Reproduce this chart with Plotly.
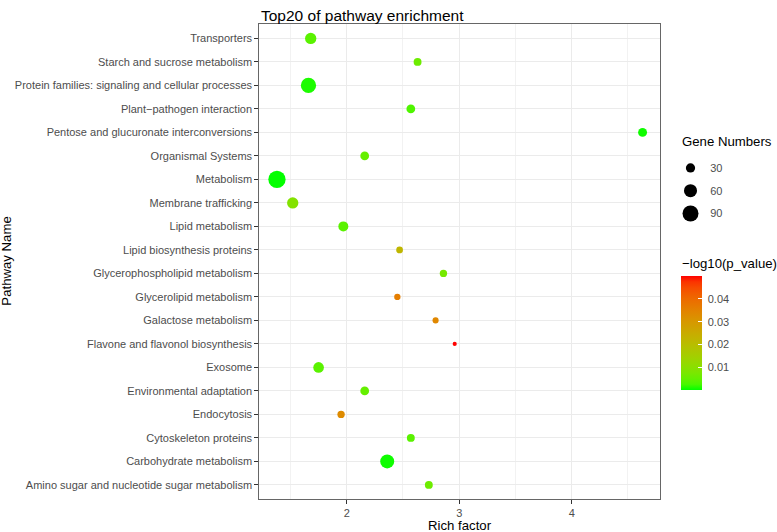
import plotly.graph_objects as go

# ---------------- data ----------------
pathways = [
    "Transporters",
    "Starch and sucrose metabolism",
    "Protein families: signaling and cellular processes",
    "Plant\u2212pathogen interaction",
    "Pentose and glucuronate interconversions",
    "Organismal Systems",
    "Metabolism",
    "Membrane trafficking",
    "Lipid metabolism",
    "Lipid biosynthesis proteins",
    "Glycerophospholipid metabolism",
    "Glycerolipid metabolism",
    "Galactose metabolism",
    "Flavone and flavonol biosynthesis",
    "Exosome",
    "Environmental adaptation",
    "Endocytosis",
    "Cytoskeleton proteins",
    "Carbohydrate metabolism",
    "Amino sugar and nucleotide sugar metabolism",
]
rich_factor = [1.68, 2.63, 1.66, 2.57, 4.63, 2.16, 1.38, 1.52, 1.97, 2.47,
               2.86, 2.45, 2.79, 2.96, 1.75, 2.16, 1.95, 2.57, 2.36, 2.73]
gene_numbers = [45, 22, 82, 27, 28, 27, 105, 45, 35, 16,
                19, 14, 13, 6, 40, 27, 19, 22, 69, 22]
neg_log10_p = [0.004, 0.006, 0.001, 0.003, 0.0005, 0.005, 0.0001, 0.009, 0.004, 0.022,
               0.007, 0.036, 0.034, 0.050, 0.004, 0.005, 0.033, 0.004, 0.0005, 0.006]

size_legend_values = [30, 60, 90]
x_ticks = [2, 3, 4]
color_ticks = [0.01, 0.02, 0.03, 0.04]

# ---------------- colour scale (Lab interpolation green -> red, like ggplot) ----------------
def _lin(c):
    c = c / 255.0
    return c / 12.92 if c <= 0.04045 else ((c + 0.055) / 1.055) ** 2.4

def _delin(c):
    c = 12.92 * c if c <= 0.0031308 else 1.055 * c ** (1 / 2.4) - 0.055
    return max(0, min(255, round(c * 255)))

WX, WY, WZ = 0.95047, 1.0, 1.08883

def rgb_to_lab(rgb):
    r, g, b = (_lin(v) for v in rgb)
    x = (0.4124 * r + 0.3576 * g + 0.1805 * b) / WX
    y = (0.2126 * r + 0.7152 * g + 0.0722 * b) / WY
    z = (0.0193 * r + 0.1192 * g + 0.9505 * b) / WZ
    f = lambda t: t ** (1 / 3) if t > 0.008856 else 7.787 * t + 16 / 116
    fx, fy, fz = f(x), f(y), f(z)
    return (116 * fy - 16, 500 * (fx - fy), 200 * (fy - fz))

def lab_to_rgb(lab):
    L, a, bb = lab
    fy = (L + 16) / 116
    fx = fy + a / 500
    fz = fy - bb / 200
    finv = lambda t: t ** 3 if t ** 3 > 0.008856 else (t - 16 / 116) / 7.787
    x, y, z = finv(fx) * WX, finv(fy) * WY, finv(fz) * WZ
    r = 3.2406 * x - 1.5372 * y - 0.4986 * z
    g = -0.9689 * x + 1.8758 * y + 0.0415 * z
    b = 0.0557 * x - 0.2040 * y + 1.0570 * z
    return tuple(_delin(max(0.0, v)) for v in (r, g, b))

lab_lo = rgb_to_lab((0, 255, 0))
lab_hi = rgb_to_lab((255, 0, 0))
n_stops = 21
colorscale = []
for i in range(n_stops):
    t = i / (n_stops - 1)
    lab = tuple(lo + (hi - lo) * t for lo, hi in zip(lab_lo, lab_hi))
    r, g, b = lab_to_rgb(lab)
    colorscale.append([t, f"rgb({r},{g},{b})"])

# ---------------- geometry ----------------
W, H = 777, 532
px = lambda v: v / W
py = lambda v: 1 - v / H
PANEL_L, PANEL_R, PANEL_T, PANEL_B = 259.3, 660.0, 24.3, 499.0
SIZEREF = 2 * 90 / 16.0 ** 2   # 90 genes -> 16 px diameter

FONT = "Liberation Sans, Arial, sans-serif"
TICK_GREY = "#4D4D4D"

fig = go.Figure()

fig.add_trace(go.Scatter(
    x=rich_factor, y=pathways, mode="markers",
    marker=dict(
        size=gene_numbers, sizemode="area", sizeref=SIZEREF,
        color=neg_log10_p, colorscale=colorscale, cmin=0, cmax=0.0501,
        opacity=1, line=dict(width=0),
        colorbar=dict(
            x=px(680.7), xanchor="left", y=py(333), yanchor="middle",
            len=114, lenmode="pixels", thickness=21, thicknessmode="pixels",
            xpad=0, ypad=0, outlinewidth=0,
            tickvals=color_ticks, ticktext=[f"\u00a0{v:.2f}" for v in color_ticks],
            ticks="inside", ticklen=4, tickcolor="white", tickwidth=1,
            tickfont=dict(family=FONT, size=11, color=TICK_GREY),
        ),
    ),
    showlegend=False, hoverinfo="x+y",
))

# size legend drawn on its own small axes
fig.add_trace(go.Scatter(
    x=[0.5] * len(size_legend_values), y=[str(v) for v in size_legend_values],
    mode="markers", xaxis="x2", yaxis="y2",
    marker=dict(size=size_legend_values, sizemode="area", sizeref=SIZEREF,
                color="black", opacity=1, line=dict(width=0)),
    showlegend=False, hoverinfo="skip",
))

fig.update_layout(
    width=W, height=H,
    margin=dict(l=0, r=0, t=0, b=0, autoexpand=False),
    paper_bgcolor="white", plot_bgcolor="white",
    font=dict(family=FONT, color="black"),
    xaxis=dict(
        domain=[px(PANEL_L), px(PANEL_R)], range=[1.223, 4.785],
        tickvals=x_ticks, ticks="outside", ticklen=4, tickcolor="#333333",
        tickfont=dict(family=FONT, size=11, color=TICK_GREY),
        showgrid=True, gridcolor="#EBEBEB", gridwidth=1,
        minor=dict(dtick=0.5, tick0=0, showgrid=True, gridcolor="#F2F2F2", gridwidth=0.6, ticks=""),
        showline=True, linecolor="#666666", linewidth=1, mirror=True,
        zeroline=False, anchor="y",
    ),
    yaxis=dict(
        domain=[py(PANEL_B), py(PANEL_T)],
        categoryorder="array", categoryarray=pathways,
        range=[19.6, -0.6],
        ticks="outside", ticklen=4, tickcolor="#333333",
        tickfont=dict(family=FONT, size=11, color=TICK_GREY),
        showgrid=True, gridcolor="#EBEBEB", gridwidth=1,
        showline=True, linecolor="#666666", linewidth=1, mirror=True,
        zeroline=False, anchor="x",
    ),
    xaxis2=dict(
        domain=[px(681), px(700)], range=[0, 1], anchor="y2",
        visible=False, fixedrange=True,
    ),
    yaxis2=dict(
        domain=[py(190.7 + 1.5 * 22.8), py(190.7 - 1.5 * 22.8)],
        categoryorder="array", categoryarray=[str(v) for v in size_legend_values],
        range=[2.5, -0.5], anchor="x2", side="right",
        showgrid=False, zeroline=False, showline=False,
        ticks="outside", ticklen=7, tickcolor="rgba(0,0,0,0)",
        tickfont=dict(family=FONT, size=11, color=TICK_GREY),
        fixedrange=True,
    ),
    annotations=[
        dict(text="Top20 of pathway enrichment", x=px(PANEL_L), y=py(15),
             xref="paper", yref="paper", xanchor="left", yanchor="middle",
             showarrow=False, font=dict(family=FONT, size=15.5, color="black")),
        dict(text="Rich factor", x=px((PANEL_L + PANEL_R) / 2), y=py(525.5),
             xref="paper", yref="paper", xanchor="center", yanchor="middle",
             showarrow=False, font=dict(family=FONT, size=13.2, color="black")),
        dict(text="Pathway Name", x=px(7), y=py((PANEL_T + PANEL_B) / 2),
             xref="paper", yref="paper", xanchor="center", yanchor="middle",
             textangle=-90, showarrow=False,
             font=dict(family=FONT, size=13.2, color="black")),
        dict(text="Gene Numbers", x=px(680), y=py(141.7),
             xref="paper", yref="paper", xanchor="left", yanchor="middle",
             showarrow=False, font=dict(family=FONT, size=13.2, color="black")),
        dict(text="\u2212log10(p_value)", x=px(680), y=py(263.3),
             xref="paper", yref="paper", xanchor="left", yanchor="middle",
             showarrow=False, font=dict(family=FONT, size=13.2, color="black")),
    ],
)

fig.write_html(
    "out.html",
    config={"displayModeBar": False},
    post_script="document.body.style.margin='0';document.body.style.padding='0';",
)
